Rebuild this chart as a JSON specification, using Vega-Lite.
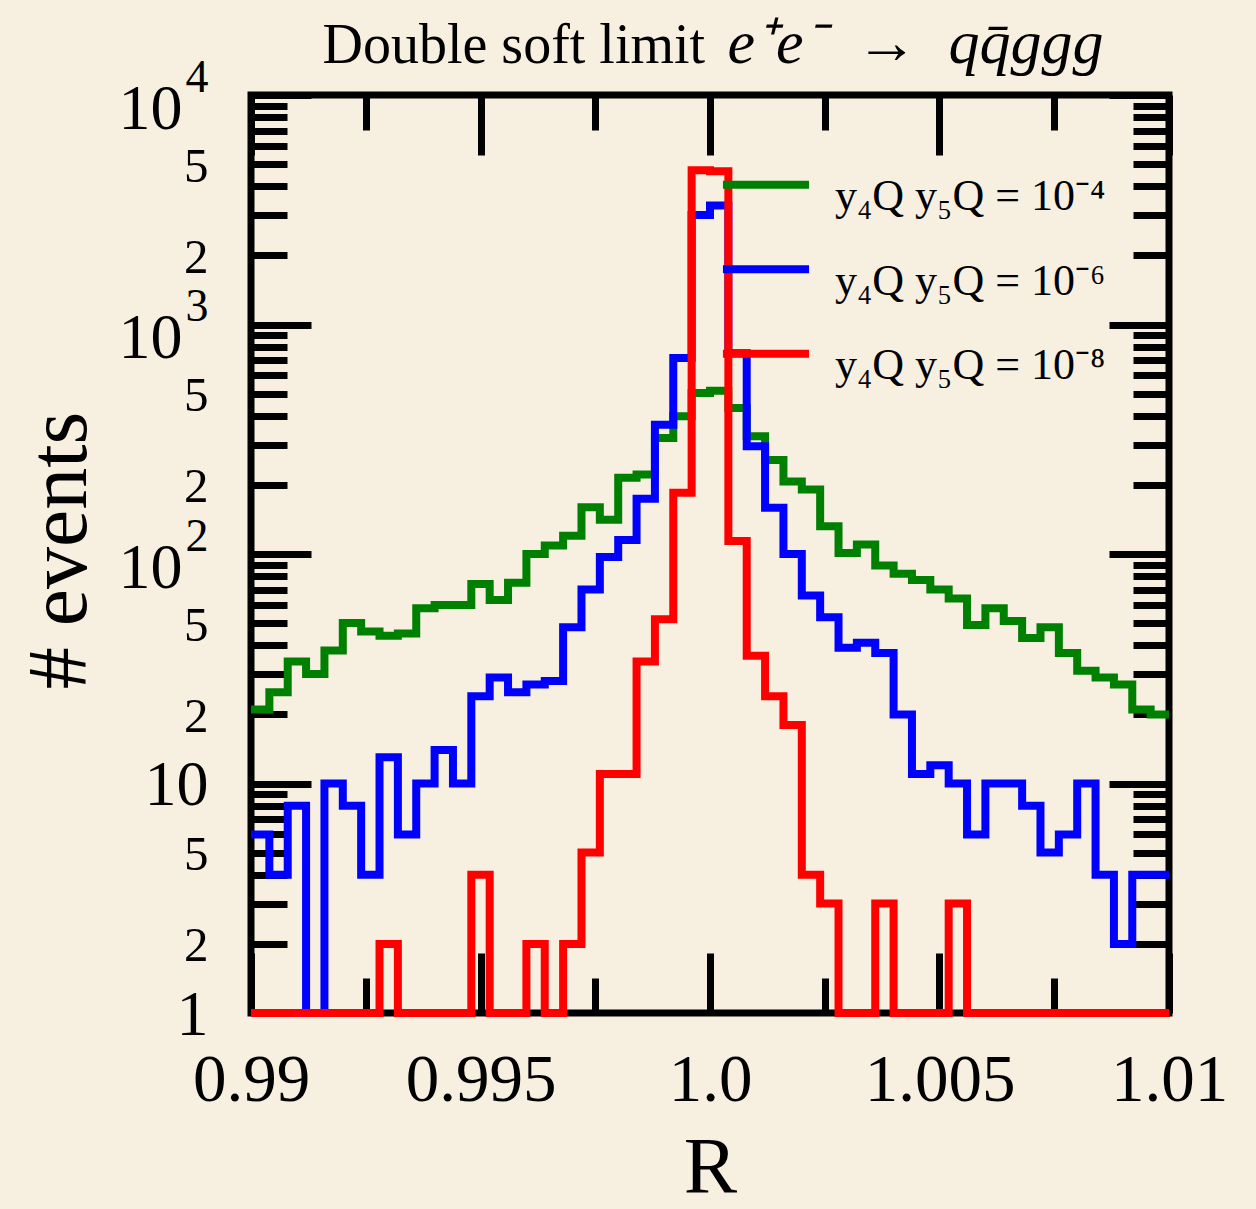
{
  "$schema": "https://vega.github.io/schema/vega-lite/v6.json",
  "width": 918,
  "height": 918,
  "autosize": {"type": "none"},
  "padding": {"left": 251, "top": 95, "right": 87, "bottom": 196},
  "background": "#F7F0E1",
  "config": {
    "font": "Liberation Serif",
    "view": {"stroke": "black", "strokeWidth": 7},
    "axis": {
      "grid": false, "domain": false, "tickColor": "black", "tickWidth": 7,
      "labelColor": "black", "titleColor": "black",
      "labelFont": "Liberation Serif", "titleFont": "Liberation Serif",
      "titleFontWeight": "normal", "labelOverlap": false, "labelFlush": false, "labelBound": false
    }
  },
  "resolve": {"axis": {"x": "independent", "y": "independent"}},
  "data": {
    "values": [
      {"R":0.99,"n":21,"s":"1e-4"},{"R":0.9904,"n":25,"s":"1e-4"},{"R":0.9908,"n":34,"s":"1e-4"},{"R":0.9912,"n":30,"s":"1e-4"},{"R":0.9916,"n":38,"s":"1e-4"},
      {"R":0.992,"n":50,"s":"1e-4"},{"R":0.9924,"n":46,"s":"1e-4"},{"R":0.9928,"n":44,"s":"1e-4"},{"R":0.9932,"n":45,"s":"1e-4"},{"R":0.9936,"n":58,"s":"1e-4"},
      {"R":0.994,"n":60,"s":"1e-4"},{"R":0.9944,"n":60,"s":"1e-4"},{"R":0.9948,"n":74,"s":"1e-4"},{"R":0.9952,"n":63,"s":"1e-4"},{"R":0.9956,"n":75,"s":"1e-4"},
      {"R":0.996,"n":100,"s":"1e-4"},{"R":0.9964,"n":109,"s":"1e-4"},{"R":0.9968,"n":120,"s":"1e-4"},{"R":0.9972,"n":160,"s":"1e-4"},{"R":0.9976,"n":141,"s":"1e-4"},
      {"R":0.998,"n":215,"s":"1e-4"},{"R":0.9984,"n":222,"s":"1e-4"},{"R":0.9988,"n":320,"s":"1e-4"},{"R":0.9992,"n":398,"s":"1e-4"},{"R":0.9996,"n":503,"s":"1e-4"},
      {"R":1.0,"n":515,"s":"1e-4"},{"R":1.0004,"n":433,"s":"1e-4"},{"R":1.0008,"n":326,"s":"1e-4"},{"R":1.0012,"n":257,"s":"1e-4"},{"R":1.0016,"n":207,"s":"1e-4"},
      {"R":1.002,"n":191,"s":"1e-4"},{"R":1.0024,"n":132,"s":"1e-4"},{"R":1.0028,"n":101,"s":"1e-4"},{"R":1.0032,"n":110,"s":"1e-4"},{"R":1.0036,"n":89,"s":"1e-4"},
      {"R":1.004,"n":82,"s":"1e-4"},{"R":1.0044,"n":77,"s":"1e-4"},{"R":1.0048,"n":70,"s":"1e-4"},{"R":1.0052,"n":64,"s":"1e-4"},{"R":1.0056,"n":49,"s":"1e-4"},
      {"R":1.006,"n":58,"s":"1e-4"},{"R":1.0064,"n":51,"s":"1e-4"},{"R":1.0068,"n":43,"s":"1e-4"},{"R":1.0072,"n":48,"s":"1e-4"},{"R":1.0076,"n":37,"s":"1e-4"},
      {"R":1.008,"n":31,"s":"1e-4"},{"R":1.0084,"n":29,"s":"1e-4"},{"R":1.0088,"n":27,"s":"1e-4"},{"R":1.0092,"n":21,"s":"1e-4"},{"R":1.0096,"n":20,"s":"1e-4"},
      {"R":1.01,"n":20,"s":"1e-4"},

      {"R":0.99,"n":6,"s":"1e-6"},{"R":0.9904,"n":4,"s":"1e-6"},{"R":0.9908,"n":8,"s":"1e-6"},{"R":0.9912,"n":1,"s":"1e-6"},{"R":0.9916,"n":10,"s":"1e-6"},
      {"R":0.992,"n":8,"s":"1e-6"},{"R":0.9924,"n":4,"s":"1e-6"},{"R":0.9928,"n":13,"s":"1e-6"},{"R":0.9932,"n":6,"s":"1e-6"},{"R":0.9936,"n":10,"s":"1e-6"},
      {"R":0.994,"n":14,"s":"1e-6"},{"R":0.9944,"n":10,"s":"1e-6"},{"R":0.9948,"n":24,"s":"1e-6"},{"R":0.9952,"n":29,"s":"1e-6"},{"R":0.9956,"n":25,"s":"1e-6"},
      {"R":0.996,"n":27,"s":"1e-6"},{"R":0.9964,"n":28,"s":"1e-6"},{"R":0.9968,"n":48,"s":"1e-6"},{"R":0.9972,"n":70,"s":"1e-6"},{"R":0.9976,"n":97,"s":"1e-6"},
      {"R":0.998,"n":115,"s":"1e-6"},{"R":0.9984,"n":174,"s":"1e-6"},{"R":0.9988,"n":366,"s":"1e-6"},{"R":0.9992,"n":714,"s":"1e-6"},{"R":0.9996,"n":3000,"s":"1e-6"},
      {"R":1.0,"n":3300,"s":"1e-6"},{"R":1.0004,"n":750,"s":"1e-6"},{"R":1.0008,"n":295,"s":"1e-6"},{"R":1.0012,"n":159,"s":"1e-6"},{"R":1.0016,"n":100,"s":"1e-6"},
      {"R":1.002,"n":66,"s":"1e-6"},{"R":1.0024,"n":53,"s":"1e-6"},{"R":1.0028,"n":39,"s":"1e-6"},{"R":1.0032,"n":41,"s":"1e-6"},{"R":1.0036,"n":37,"s":"1e-6"},
      {"R":1.004,"n":20,"s":"1e-6"},{"R":1.0044,"n":11,"s":"1e-6"},{"R":1.0048,"n":12,"s":"1e-6"},{"R":1.0052,"n":10,"s":"1e-6"},{"R":1.0056,"n":6,"s":"1e-6"},
      {"R":1.006,"n":10,"s":"1e-6"},{"R":1.0064,"n":10,"s":"1e-6"},{"R":1.0068,"n":8,"s":"1e-6"},{"R":1.0072,"n":5,"s":"1e-6"},{"R":1.0076,"n":6,"s":"1e-6"},
      {"R":1.008,"n":10,"s":"1e-6"},{"R":1.0084,"n":4,"s":"1e-6"},{"R":1.0088,"n":2,"s":"1e-6"},{"R":1.0092,"n":4,"s":"1e-6"},{"R":1.0096,"n":4,"s":"1e-6"},
      {"R":1.01,"n":4,"s":"1e-6"},

      {"R":0.99,"n":1,"s":"1e-8"},{"R":0.9904,"n":1,"s":"1e-8"},{"R":0.9908,"n":1,"s":"1e-8"},{"R":0.9912,"n":1,"s":"1e-8"},{"R":0.9916,"n":1,"s":"1e-8"},
      {"R":0.992,"n":1,"s":"1e-8"},{"R":0.9924,"n":1,"s":"1e-8"},{"R":0.9928,"n":2,"s":"1e-8"},{"R":0.9932,"n":1,"s":"1e-8"},{"R":0.9936,"n":1,"s":"1e-8"},
      {"R":0.994,"n":1,"s":"1e-8"},{"R":0.9944,"n":1,"s":"1e-8"},{"R":0.9948,"n":4,"s":"1e-8"},{"R":0.9952,"n":1,"s":"1e-8"},{"R":0.9956,"n":1,"s":"1e-8"},
      {"R":0.996,"n":2,"s":"1e-8"},{"R":0.9964,"n":1,"s":"1e-8"},{"R":0.9968,"n":2,"s":"1e-8"},{"R":0.9972,"n":5,"s":"1e-8"},{"R":0.9976,"n":11,"s":"1e-8"},
      {"R":0.998,"n":11,"s":"1e-8"},{"R":0.9984,"n":34,"s":"1e-8"},{"R":0.9988,"n":52,"s":"1e-8"},{"R":0.9992,"n":185,"s":"1e-8"},{"R":0.9996,"n":4700,"s":"1e-8"},
      {"R":1.0,"n":4650,"s":"1e-8"},{"R":1.0004,"n":114,"s":"1e-8"},{"R":1.0008,"n":36,"s":"1e-8"},{"R":1.0012,"n":24,"s":"1e-8"},{"R":1.0016,"n":18,"s":"1e-8"},
      {"R":1.002,"n":4,"s":"1e-8"},{"R":1.0024,"n":3,"s":"1e-8"},{"R":1.0028,"n":1,"s":"1e-8"},{"R":1.0032,"n":1,"s":"1e-8"},{"R":1.0036,"n":3,"s":"1e-8"},
      {"R":1.004,"n":1,"s":"1e-8"},{"R":1.0044,"n":1,"s":"1e-8"},{"R":1.0048,"n":1,"s":"1e-8"},{"R":1.0052,"n":3,"s":"1e-8"},{"R":1.0056,"n":1,"s":"1e-8"},
      {"R":1.006,"n":1,"s":"1e-8"},{"R":1.0064,"n":1,"s":"1e-8"},{"R":1.0068,"n":1,"s":"1e-8"},{"R":1.0072,"n":1,"s":"1e-8"},{"R":1.0076,"n":1,"s":"1e-8"},
      {"R":1.008,"n":1,"s":"1e-8"},{"R":1.0084,"n":1,"s":"1e-8"},{"R":1.0088,"n":1,"s":"1e-8"},{"R":1.0092,"n":1,"s":"1e-8"},{"R":1.0096,"n":1,"s":"1e-8"},
      {"R":1.01,"n":1,"s":"1e-8"}
    ]
  },
  "layer": [
    {
      "transform": [{"filter": "datum.s == '1e-4'"}],
      "mark": {"type": "line", "interpolate": "step-after", "strokeWidth": 8, "strokeCap": "butt", "strokeJoin": "miter"},
      "encoding": {
        "x": {
          "field": "R", "type": "quantitative",
          "scale": {"domain": [0.99, 1.01], "nice": false, "zero": false},
          "axis": {
            "orient": "bottom", "ticks": false, "values": [0.99, 0.995, 1, 1.005, 1.01],
            "labelExpr": "datum.value == 1 ? '1.0' : format(datum.value, '.3~f')",
            "labelFontSize": 67, "labelPadding": 34,
            "title": "R", "titleFontSize": 80, "titleX": 459, "titleY": 179,
            "titleBaseline": "alphabetic", "titleAlign": "center"
          }
        },
        "y": {
          "field": "n", "type": "quantitative",
          "scale": {"type": "log", "domain": [1, 10000], "nice": false},
          "axis": {
            "orient": "left", "ticks": false,
            "values": [1, 2, 5, 10, 20, 50, 100, 200, 500, 1000, 2000, 5000, 10000],
            "labelExpr": "indexof([10,100,1000,10000], datum.value) >= 0 ? '10' : datum.value == 1 ? '1' : substring(toString(datum.value), 0, 1)",
            "labelFontSize": {"condition": {"test": "indexof([1,10,100,1000,10000], datum.value) >= 0", "value": 64}, "value": 49},
            "labelPadding": {"condition": {"test": "indexof([100,1000,10000], datum.value) >= 0", "value": 69}, "value": 43},
            "labelOffset": {"condition": {"test": "indexof([100,1000,10000], datum.value) >= 0", "value": 14}, "value": 2},
            "labelBaseline": "middle",
            "title": "# events", "titleFontSize": 84, "titleAngle": 270,
            "titleX": -166, "titleY": 455, "titleBaseline": "alphabetic", "titleAlign": "center"
          }
        },
        "color": {
          "field": "s", "type": "nominal",
          "scale": {"domain": ["1e-4", "1e-6", "1e-8"], "range": ["#008000", "#0000FF", "#FF0000"]},
          "legend": {
            "orient": "none", "legendX": 493, "legendY": 80, "title": null,
            "symbolType": "M-3,-0.85H3", "symbolSize": 824, "symbolStrokeWidth": 8,
            "symbolFillColor": "transparent",
            "labelFontSize": 44, "labelOffset": 47, "rowPadding": 33.5, "padding": 0,
            "labelFont": "Liberation Serif", "labelColor": "black", "labelLimit": 0,
            "labelExpr": "datum.label == '1e-4' ? 'y₄Q y₅Q = 10⁻⁴' : datum.label == '1e-6' ? 'y₄Q y₅Q = 10⁻⁶' : 'y₄Q y₅Q = 10⁻⁸'"
          }
        }
      }
    },
    {
      "transform": [{"filter": "datum.s == '1e-6'"}],
      "mark": {"type": "line", "interpolate": "step-after", "strokeWidth": 8, "strokeCap": "butt", "strokeJoin": "miter"},
      "encoding": {
        "x": {
          "field": "R", "type": "quantitative",
          "scale": {"domain": [0.99, 1.01], "nice": false, "zero": false},
          "axis": {
            "orient": "top", "offset": -918, "labels": false, "title": null,
            "values": [0.99, 0.9925, 0.995, 0.9975, 1, 1.0025, 1.005, 1.0075, 1.01],
            "tickSize": {"condition": {"test": "abs(datum.value * 200 - round(datum.value * 200)) < 0.01", "value": 60}, "value": 35}
          }
        },
        "y": {
          "field": "n", "type": "quantitative",
          "scale": {"type": "log", "domain": [1, 10000], "nice": false},
          "axis": {
            "orient": "right", "offset": -918, "labels": false, "title": null,
            "values": [1,2,3,4,5,6,7,8,9,10,20,30,40,50,60,70,80,90,100,200,300,400,500,600,700,800,900,1000,2000,3000,4000,5000,6000,7000,8000,9000,10000],
            "tickSize": {"condition": {"test": "indexof([1,10,100,1000,10000], datum.value) >= 0", "value": 60}, "value": 36}
          }
        },
        "color": {"field": "s", "type": "nominal", "scale": {"domain": ["1e-4", "1e-6", "1e-8"], "range": ["#008000", "#0000FF", "#FF0000"]}}
      }
    },
    {
      "transform": [{"filter": "datum.s == '1e-8'"}],
      "mark": {"type": "line", "interpolate": "step-after", "strokeWidth": 8, "strokeCap": "butt", "strokeJoin": "miter"},
      "encoding": {
        "x": {
          "field": "R", "type": "quantitative",
          "scale": {"domain": [0.99, 1.01], "nice": false, "zero": false},
          "axis": {
            "orient": "bottom", "offset": -918, "labels": false,
            "values": [0.99, 0.9925, 0.995, 0.9975, 1, 1.0025, 1.005, 1.0075, 1.01],
            "tickSize": {"condition": {"test": "abs(datum.value * 200 - round(datum.value * 200)) < 0.01", "value": 60}, "value": 35},
            "title": "Double soft limit", "titleFontSize": 56, "titleX": 71, "titleY": -33,
            "titleAlign": "left", "titleBaseline": "alphabetic"
          }
        },
        "y": {
          "field": "n", "type": "quantitative",
          "scale": {"type": "log", "domain": [1, 10000], "nice": false},
          "axis": {
            "orient": "left", "offset": -918,
            "values": [1,2,3,4,5,6,7,8,9,10,20,30,40,50,60,70,80,90,100,200,300,400,500,600,700,800,900,1000,2000,3000,4000,5000,6000,7000,8000,9000,10000],
            "tickSize": {"condition": {"test": "indexof([1,10,100,1000,10000], datum.value) >= 0", "value": 60}, "value": 36},
            "labelExpr": "datum.value == 10000 ? '4' : datum.value == 1000 ? '3' : datum.value == 100 ? '2' : ''",
            "labelFontSize": 46, "labelPadding": 901, "labelOffset": -18, "labelBaseline": "middle",
            "title": "e⁺e⁻ \u00a0→\u00a0 qq̄ggg", "titleFontSize": 62, "titleFontStyle": "italic", "titleAngle": 0,
            "titleX": -442, "titleY": -33, "titleAlign": "left", "titleBaseline": "alphabetic"
          }
        },
        "color": {"field": "s", "type": "nominal", "scale": {"domain": ["1e-4", "1e-6", "1e-8"], "range": ["#008000", "#0000FF", "#FF0000"]}}
      }
    }
  ]
}
